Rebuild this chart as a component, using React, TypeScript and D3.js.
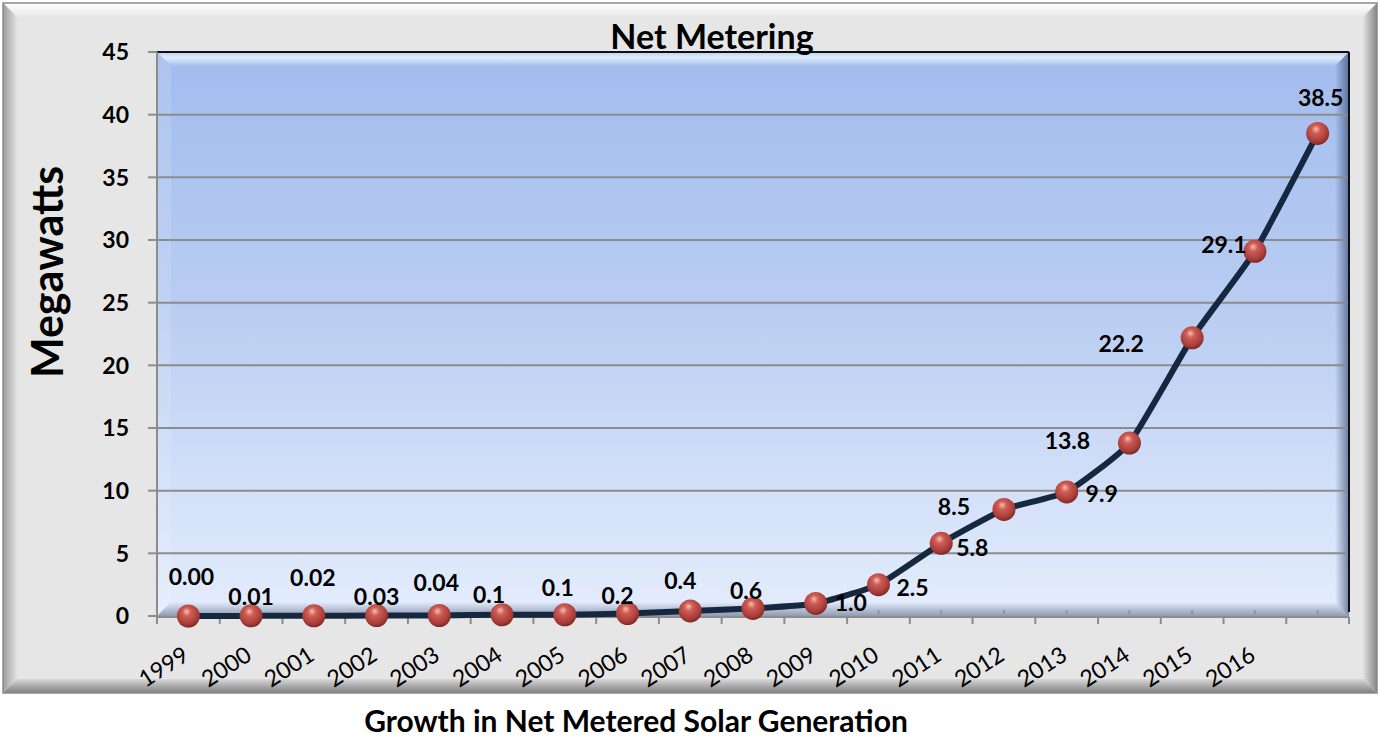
import * as d3 from 'd3';

const years = ['1999', '2000', '2001', '2002', '2003', '2004', '2005', '2006', '2007', '2008',
  '2009', '2010', '2011', '2012', '2013', '2014', '2015', '2016'];
const megawatts = [0.0, 0.01, 0.02, 0.03, 0.04, 0.1, 0.1, 0.2, 0.4, 0.6,
  1.0, 2.5, 5.8, 8.5, 9.9, 13.8, 22.2, 29.1, 38.5];
const labelText = ['0.00', '0.01', '0.02', '0.03', '0.04', '0.1', '0.1', '0.2', '0.4', '0.6',
  '1.0', '2.5', '5.8', '8.5', '9.9', '13.8', '22.2', '29.1', '38.5'];
// label nudges (dx, dy) from the marker, as they sit in the original
const labelNudge = [[3, -39], [0, -19], [-1, -38], [0, -19], [-3, -33], [-13, -20], [-7, -27],
  [-10, -18], [-10, -30], [-7, -18], [35, -1], [34, 3], [31, 4], [-50, -3], [35, 2],
  [-62, -2], [-71, 6], [-31, -7], [3, -36]];
const yTicks = [0, 5, 10, 15, 20, 25, 30, 35, 40, 45];

const W = 1380, H = 738;
const left = 157, right = 1349, top = 52, bottom = 616;
const font = "Lato, 'Open Sans', sans-serif";

export default function App() {
  const x = d3.scaleBand<number>().domain(d3.range(megawatts.length)).range([left, right]);
  const y = d3.scaleLinear().domain([0, 45]).range([bottom, top]);
  const cx = (i: number) => (x(i) as number) + x.bandwidth() / 2;
  const line = d3.line<number>().x((_, i) => cx(i)).y((d) => y(d)).curve(d3.curveCardinal.tension(0.55));
  const bounds = d3.range(megawatts.length + 1).map((i) => left + i * x.bandwidth());

  return (
    <svg width={W} height={H} style={{ position: 'absolute', left: 0, top: 0, background: '#fff' }}>
      <defs>
        <linearGradient id="frameTop" x1="0" y1="0" x2="0" y2="1">
          <stop offset="0" stopColor="#ffffff" />
          <stop offset="1" stopColor="#e8e8e8" />
        </linearGradient>
        <linearGradient id="frameLeft" x1="0" y1="0" x2="1" y2="0">
          <stop offset="0" stopColor="#9c9c9c" />
          <stop offset="1" stopColor="#e2e2e2" />
        </linearGradient>
        <linearGradient id="frameRight" x1="0" y1="0" x2="1" y2="0">
          <stop offset="0" stopColor="#e2e2e2" />
          <stop offset="1" stopColor="#858585" />
        </linearGradient>
        <linearGradient id="frameBottom" x1="0" y1="0" x2="0" y2="1">
          <stop offset="0" stopColor="#d8d8d8" />
          <stop offset="1" stopColor="#7e7e7e" />
        </linearGradient>
        <linearGradient id="plotFill" x1="0" y1="0" x2="0" y2="1">
          <stop offset="0" stopColor="#a2bcee" />
          <stop offset="0.45" stopColor="#b9cdf2" />
          <stop offset="1" stopColor="#e4edfd" />
        </linearGradient>
        <linearGradient id="bevTop" x1="0" y1="0" x2="0" y2="1">
          <stop offset="0" stopColor="#ffffff" stopOpacity="0.25" />
          <stop offset="0.4" stopColor="#eafaff" stopOpacity="0.8" />
          <stop offset="1" stopColor="#ffffff" stopOpacity="0" />
        </linearGradient>
        <linearGradient id="bevRight" x1="0" y1="0" x2="1" y2="0">
          <stop offset="0" stopColor="#2a3c64" stopOpacity="0" />
          <stop offset="1" stopColor="#2a3c64" stopOpacity="0.6" />
        </linearGradient>
        <linearGradient id="bevBottom" x1="0" y1="0" x2="0" y2="1">
          <stop offset="0" stopColor="#3c4868" stopOpacity="0" />
          <stop offset="1" stopColor="#3c4868" stopOpacity="0.5" />
        </linearGradient>
        <radialGradient id="ball" cx="0.45" cy="0.38" r="0.62" fx="0.42" fy="0.3">
          <stop offset="0" stopColor="#f5c0b0" />
          <stop offset="0.3" stopColor="#cf5d55" />
          <stop offset="0.8" stopColor="#a63c37" />
          <stop offset="1" stopColor="#7c2623" />
        </radialGradient>
      </defs>

      {/* chart area with bevelled frame */}
      <rect x={3} y={3} width={1374} height={690} fill="#e6e6e6" />
      <polygon points="3,3 1377,3 1363,17 17,17" fill="url(#frameTop)" />
      <polygon points="3,3 17,17 17,679 3,693" fill="url(#frameLeft)" />
      <polygon points="1377,3 1363,17 1363,679 1377,693" fill="url(#frameRight)" />
      <polygon points="3,693 17,679 1363,679 1377,693" fill="url(#frameBottom)" />
      <rect x={3} y={3} width={1374} height={690} fill="none" stroke="#8a8a8a" strokeWidth={1.5} />

      {/* plot area */}
      <rect x={left} y={top} width={right - left} height={bottom - top} fill="url(#plotFill)" />
      <polygon points={`${left},${top} ${right},${top} ${right - 14},${top + 14} ${left + 14},${top + 14}`} fill="url(#bevTop)" />
      <polygon points={`${left},${top} ${left + 14},${top + 14} ${left + 14},${bottom - 14} ${left},${bottom}`} fill="#ffffff" opacity={0.12} />
      <polygon points={`${right},${top} ${right},${bottom} ${right - 14},${bottom - 14} ${right - 14},${top + 14}`} fill="url(#bevRight)" />
      <polygon points={`${left},${bottom} ${right},${bottom} ${right - 14},${bottom - 14} ${left + 14},${bottom - 14}`} fill="url(#bevBottom)" />

      {/* gridlines */}
      {yTicks.filter((t) => t > 0 && t < 45).map((t) => (
        <line key={t} x1={left} x2={right} y1={y(t)} y2={y(t)} stroke="#8c8c8c" strokeWidth={2} />
      ))}
      <line x1={left} x2={right} y1={top} y2={top} stroke="#111" strokeWidth={2} />
      <line x1={right} x2={right} y1={top} y2={bottom - 4} stroke="#111" strokeWidth={2} />

      {/* y axis */}
      <line x1={left} x2={left} y1={top} y2={bottom + 1} stroke="#8c8c8c" strokeWidth={2} />
      {yTicks.map((t) => (
        <g key={t}>
          <line x1={left - 9} x2={left} y1={y(t)} y2={y(t)} stroke="#8c8c8c" strokeWidth={2} />
          <text x={129} y={y(t)} dy="0.36em" textAnchor="end" fontFamily={font} fontWeight={700} fontSize={23} fill="#000">{t}</text>
        </g>
      ))}

      {/* x axis */}
      <line x1={left} x2={right} y1={bottom + 1} y2={bottom + 1} stroke="#8c8c8c" strokeWidth={2} />
      {bounds.map((b, i) => (
        <line key={i} x1={b} x2={b} y1={bottom + 1} y2={bottom + 8} stroke="#8c8c8c" strokeWidth={2} />
      ))}
      {megawatts.map((_, i) => (
        <line key={i} x1={cx(i)} x2={cx(i)} y1={bottom - 6} y2={bottom - 2} stroke="#8c94a8" strokeWidth={2} />
      ))}
      {years.map((yr, i) => (
        <text key={yr} transform={`translate(${cx(i) + 2},${659}) rotate(-33)`} textAnchor="end"
          fontFamily={font} fontSize={23} fill="#000">{yr}</text>
      ))}

      {/* series */}
      <path d={line(megawatts) ?? ''} fill="none" stroke="#16283f" strokeWidth={6} strokeLinejoin="round" />
      {megawatts.map((v, i) => (
        <circle key={i} cx={cx(i)} cy={y(v)} r={11.5} fill="url(#ball)" />
      ))}
      {megawatts.map((v, i) => (
        <text key={i} x={cx(i) + labelNudge[i][0]} y={y(v) + labelNudge[i][1]} dy="0.36em" textAnchor="middle"
          fontFamily={font} fontWeight={700} fontSize={23} fill="#000">{labelText[i]}</text>
      ))}

      {/* titles */}
      <text x={712} y={49} textAnchor="middle" fontFamily={font} fontWeight={700} fontSize={34} fill="#000">Net Metering</text>
      <text transform="translate(63,272) rotate(-90)" textAnchor="middle" fontFamily={font} fontWeight={700} fontSize={43} fill="#000">Megawatts</text>
      <text x={636} y={732} textAnchor="middle" fontFamily={font} fontWeight={700} fontSize={30} fill="#000">Growth in Net Metered Solar Generation</text>
    </svg>
  );
}
